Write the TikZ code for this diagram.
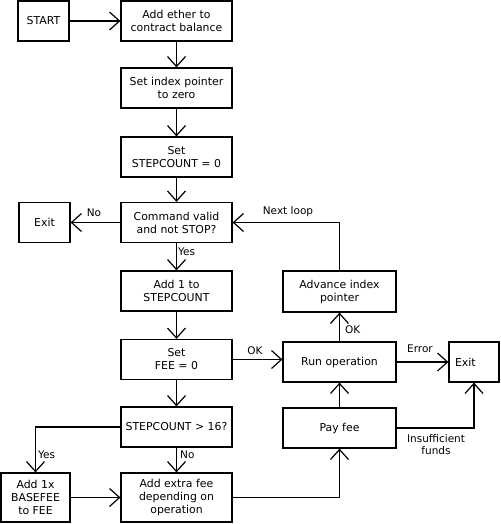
\documentclass[tikz,border=0pt]{standalone}
\usepackage{fontspec}
\setmainfont{DejaVu Sans}
\usetikzlibrary{arrows.meta}
\begin{document}
\begin{tikzpicture}[x=1pt,y=-1pt,
  box/.style={draw, line width=1.2pt, inner sep=0pt, align=center,
    font=\fontsize{10.9}{13}\selectfont, minimum width=111pt, minimum height=40pt},
  lbl/.style={font=\fontsize{10.5}{12.5}\selectfont, inner sep=0pt, align=center},
  conn/.style={line width=1.2pt, -{Straight Barb[length=10pt,width=18pt]}}]
\useasboundingbox (0,0) rectangle (500,524);
\node[box, minimum width=51pt] (start) at (43.5,21) {START};
\node[box] (ether) at (176.5,21) {Add ether to\\contract balance};
\node[box] (index) at (176.5,88) {Set index pointer\\to zero};
\node[box] (sc0) at (176.5,157) {Set\\STEPCOUNT = 0};
\node[box] (cmd) at (176.5,222.5) {Command valid\\and not STOP?};
\node[box, minimum width=51pt] (exitL) at (44.5,222.5) {Exit};
\node[box] (add1) at (176.5,291) {Add 1 to\\STEPCOUNT};
\node[box] (fee0) at (176.5,359.5) {Set\\FEE = 0};
\node[box] (gt) at (176.5,427) {STEPCOUNT > 16?};
\node[box, minimum height=49pt] (extra) at (176.5,497.5) {Add extra fee\\depending on\\operation};
\node[box, minimum width=69pt, minimum height=49pt] (base) at (35.5,497.5) {Add 1x\\BASEFEE\\to FEE};
\node[box, minimum width=113pt, minimum height=41pt] (adv) at (339.5,291.5) {Advance index\\pointer};
\node[box, minimum width=113pt] (run) at (339.5,362) {Run operation};
\node[box, minimum width=113pt] (pay) at (339.5,428) {Pay fee};
\node[box, minimum width=50pt, align=left, text width=38pt, inner xsep=6pt] (exitR) at (474,362) {Exit};

\draw[conn] (start) -- (ether);
\draw[conn] (ether) -- (index);
\draw[conn] (index) -- (sc0);
\draw[conn] (sc0) -- (cmd);
\draw[conn] (cmd) -- (exitL);
\draw[conn] (cmd) -- (add1);
\draw[conn] (add1) -- (fee0);
\draw[conn] (fee0) -- (gt);
\draw[conn] (gt) -- (extra);
\draw[conn] (gt.west) -| (base.north);
\draw[conn] (base) -- (extra);
\draw[conn] (extra.east) -| (pay.south);
\draw[conn] (pay) -- (run);
\draw[conn] (run) -- (adv);
\draw[conn] (adv.north) |- (cmd.east);
\draw[conn] (fee0.east) -- (run.west |- fee0.east);
\draw[conn] (run) -- (exitR);
\draw[conn] (pay.east) -| (exitR.south);

\node[lbl] (lNo1) at (94,213) {No};
\node[lbl, anchor=west] (lYes1) at (178,252) {Yes};
\node[lbl] (lOK1) at (255,351) {OK};
\node[lbl] (lNext) at (288,212) {Next loop};
\node[lbl, anchor=west] (lOK2) at (345,330) {OK};
\node[lbl] (lErr) at (420,349) {Error};
\node[lbl] (lIns) at (436,444.5) {Insufficient\\funds};
\node[lbl, anchor=west] (lYes2) at (38,455) {Yes};
\node[lbl, anchor=west] (lNo2) at (180,455) {No};
\end{tikzpicture}
\end{document}
